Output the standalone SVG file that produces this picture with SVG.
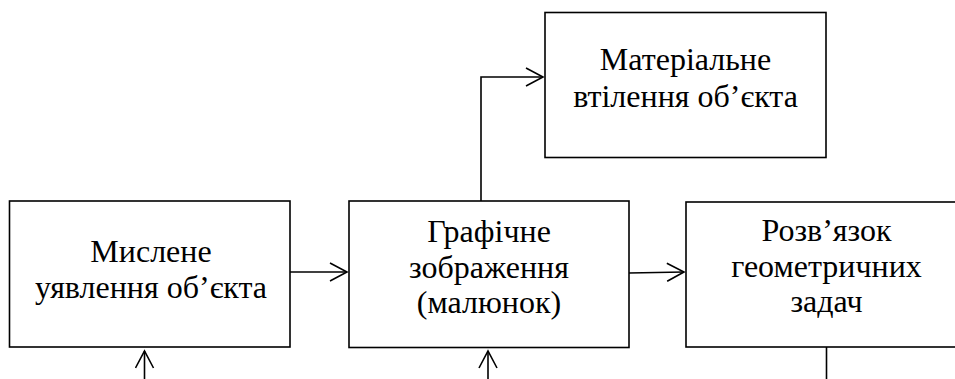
<svg xmlns="http://www.w3.org/2000/svg" width="955" height="379" viewBox="0 0 955 379">
<style>
.box{fill:#fff;stroke:#000;stroke-width:1.6}
.t{font-size:32px;fill:#000;text-anchor:middle}
.c{fill:none;stroke:#000;stroke-width:1.6}
</style>
<defs>
<marker id="ah" viewBox="0 0 20 20" refX="18" refY="10" markerWidth="20" markerHeight="20" markerUnits="userSpaceOnUse" orient="auto">
<path d="M1,1 L18,10 L1,19" fill="none" stroke="#000" stroke-width="1.6"/>
</marker>
</defs>
<rect width="955" height="379" fill="#fff"/>
<g id="connectors">
<line class="c" x1="290" y1="272" x2="347" y2="272" marker-end="url(#ah)"/>
<line class="c" x1="629" y1="273" x2="684" y2="272" marker-end="url(#ah)"/>
<polyline class="c" points="481,201 481,77 543,77" marker-end="url(#ah)"/>
<line class="c" x1="144.5" y1="379" x2="144.5" y2="351" marker-end="url(#ah)"/>
<line class="c" x1="488" y1="379" x2="488" y2="351" marker-end="url(#ah)"/>
<line class="c" x1="826.5" y1="347" x2="826.5" y2="379"/>
</g>
<g font-family="'Liberation Serif', 'Times New Roman', serif">
<g id="n1">
<rect class="box" x="9.5" y="201" width="280.5" height="146"/>
<text class="t" x="151" y="261.5">Мислене</text>
<text class="t" x="151" y="297.5">уявлення об’єкта</text>
</g>
<g id="n2">
<rect class="box" x="349" y="201" width="280" height="146.5"/>
<text class="t" x="489" y="242">Графічне</text>
<text class="t" x="489" y="278">зображення</text>
<text class="t" x="489" y="313">(малюнок)</text>
</g>
<g id="n3">
<rect class="box" x="545" y="12.5" width="281" height="145"/>
<text class="t" x="685.5" y="70">Матеріальне</text>
<text class="t" x="685.5" y="106.5">втілення об’єкта</text>
</g>
<g id="n4">
<rect class="box" x="686" y="202" width="280" height="145"/>
<text class="t" x="826.5" y="241">Розв’язок</text>
<text class="t" x="826.5" y="277">геометричних</text>
<text class="t" x="826.5" y="312">задач</text>
</g>
</g>
</svg>
